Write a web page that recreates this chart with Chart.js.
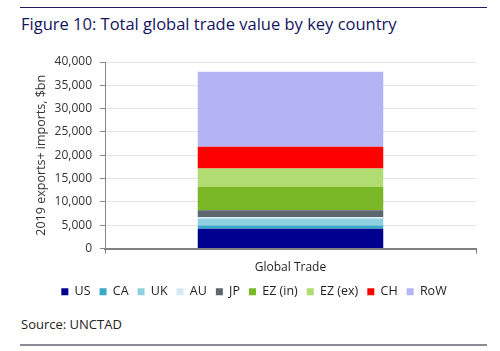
<!DOCTYPE html>
<html>
<head>
<meta charset="utf-8">
<script src="https://cdn.jsdelivr.net/npm/chart.js@4.4.0/dist/chart.umd.min.js"></script>
<style>
  body { margin: 0; background: #fff; font-family: "Open Sans", sans-serif; }
  #wrap { position: relative; width: 500px; height: 351px; overflow: hidden; }
  .rule-top { position: absolute; left: 20px; top: 7px; width: 467px; height: 1px; background: #1c1c5c; }
  .rule-bot { position: absolute; left: 20px; top: 344px; width: 467px; height: 2px; background: #8a8a98; }
  h1 { position: absolute; left: 21px; top: 12px; margin: 0; font-size: 16.5px; font-weight: 400; color: #14145e; white-space: nowrap; }
  .source { position: absolute; left: 21px; top: 315px; font-size: 13px; color: #222; }
  #chartBox { position: absolute; left: 0; top: 45px; width: 500px; height: 263px; }
</style>
</head>
<body>
<div id="wrap">
  <div class="rule-top"></div>
  <h1>Figure 10: Total global trade value by key country</h1>
  <div id="chartBox"><canvas id="tradeChart"></canvas></div>
  <div class="source">Source: UNCTAD</div>
  <div class="rule-bot"></div>
</div>
<script>
// 2019 exports + imports, $bn
const categories = ['Global Trade'];
const seriesNames = ['US', 'CA', 'UK', 'AU', 'JP', 'EZ (in)', 'EZ (ex)', 'CH', 'RoW'];
const seriesValues = [4250, 700, 1450, 350, 1450, 5000, 3950, 4650, 16100];
const seriesColors = ['#000090', '#3aa8c8', '#8fd0e0', '#d6eaf3', '#5c6770', '#7ab827', '#b0dc72', '#ff0000', '#b4b4f4'];
const yTicks = [0, 5000, 10000, 15000, 20000, 25000, 30000, 35000, 40000];

const datasets = seriesNames.map((name, i) => ({
  label: name,
  data: [seriesValues[i]],
  backgroundColor: seriesColors[i],
  borderWidth: 0,
  barPercentage: 1,
  categoryPercentage: 0.5
}));

Chart.defaults.font.family = '"Open Sans", sans-serif';
Chart.defaults.color = '#333';

new Chart(document.getElementById('tradeChart'), {
  type: 'bar',
  data: { labels: categories, datasets: datasets },
  options: {
    responsive: true,
    maintainAspectRatio: false,
    animation: false,
    layout: { padding: { top: 17, right: 24, left: 32, bottom: 0 } },
    plugins: {
      tooltip: { enabled: false },
      legend: {
        position: 'bottom',
        labels: { boxWidth: 7, boxHeight: 7, padding: 9, font: { size: 12.5 }, color: '#222' }
      }
    },
    scales: {
      x: {
        stacked: true,
        afterFit: axis => { axis.height = 28; },
        grid: { display: true, drawOnChartArea: false, drawTicks: true, tickLength: 5, color: '#777', offset: true },
        border: { color: '#808080', width: 2 },
        ticks: { padding: 7, font: { size: 12 }, color: '#222' }
      },
      y: {
        stacked: true,
        min: 0,
        max: 40000,
        afterBuildTicks: axis => { axis.ticks = yTicks.map(v => ({ value: v })); },
        afterFit: axis => { axis.width = 73; },
        grid: { color: '#e4e4e4', tickColor: '#888', tickLength: 5 },
        border: { color: '#888', width: 1 },
        ticks: {
          padding: 8,
          font: { size: 12 },
          color: '#333',
          callback: v => v.toLocaleString('en-US')
        },
        title: { display: true, text: '2019 exports+ imports, $bn', font: { size: 12.5 }, color: '#333', padding: 2 }
      }
    }
  }
});
</script>
</body>
</html>
